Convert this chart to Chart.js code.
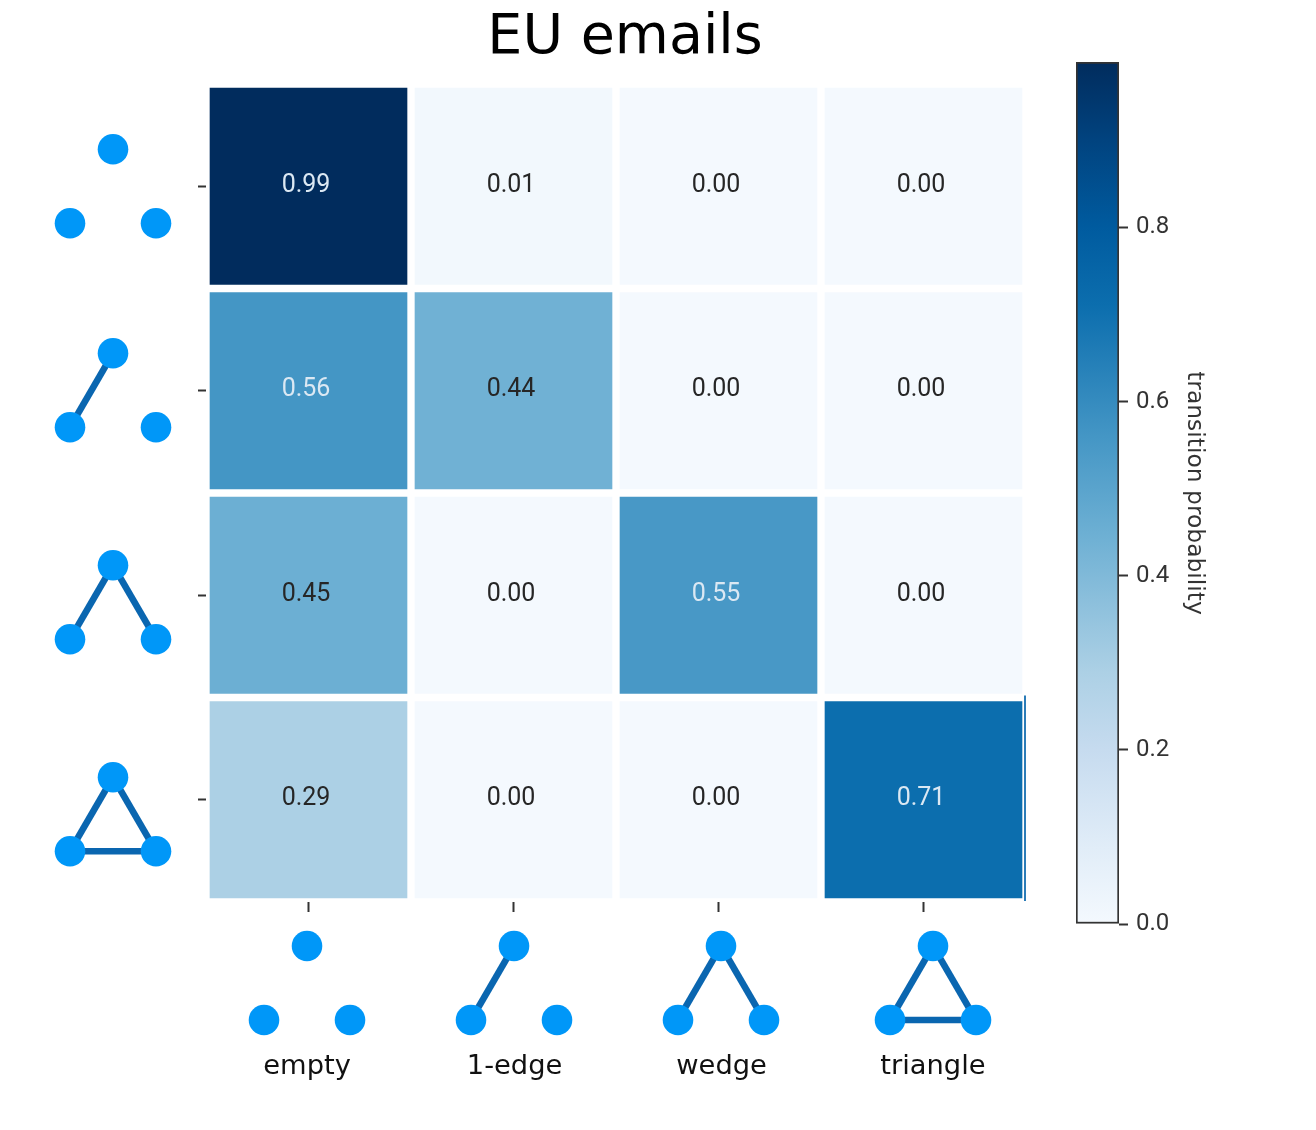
<!DOCTYPE html>
<html>
<head>
<meta charset="utf-8">
<style>
    html, body { margin: 0; padding: 0; background: #fff; }
    canvas { position: absolute; top: 0; filter: blur(0.4px); }
    #matrixChart { left: 0; }
    #colorbar { left: 1060px; }
</style>
</head>
<body>
<canvas id="matrixChart" width="1250" height="1130"></canvas>
<canvas id="colorbar" width="160" height="1130"></canvas>
<script src="https://cdn.jsdelivr.net/npm/chart.js@4"></script>
<script>
// transition probabilities, one list per row of the matrix
var categories = ['empty', '1-edge', 'wedge', 'triangle'];
var emptyRow = [0.99, 0.01, 0.00, 0.00];
var oneEdgeRow = [0.56, 0.44, 0.00, 0.00];
var wedgeRow = [0.45, 0.00, 0.55, 0.00];
var triangleRow = [0.29, 0.00, 0.00, 0.71];
var rows = [emptyRow, oneEdgeRow, wedgeRow, triangleRow];

var colorbarTicks = [0.0, 0.2, 0.4, 0.6, 0.8];
var colorbarMax = 0.99;

// edges of the little graph for each category, as pairs of node names
var glyphEdges = [
    [],
    [['left', 'top']],
    [['left', 'top'], ['top', 'right']],
    [['left', 'top'], ['top', 'right'], ['left', 'right']]
];

// colour ramp, value -> colour
var rampStops = [
    [0.00, '#f4f9fe'],
    [0.10, '#deebf7'],
    [0.20, '#c6dbef'],
    [0.29, '#acd0e5'],
    [0.45, '#6cafd3'],
    [0.56, '#4496c5'],
    [0.71, '#0c6eae'],
    [0.80, '#005b9f'],
    [0.90, '#01437f'],
    [0.99, '#012c5d']
];

// the glyphs and labels sit a little off the ticks
var rowGlyphTop = [-37, -37.5, -30, -22.5];
var columnGlyphX = [-1.5, 0.5, 2.5, 9.5];
var labelPositions = [0.493, 1.505, 2.515, 3.546];

var inkColor = '#333333';

function hexToRgb(hex) {
    return [1, 3, 5].map(function (i) { return parseInt(hex.substr(i, 2), 16); });
}

function rampColor(v) {
    for (var i = 1; i < rampStops.length; i++) {
        if (v <= rampStops[i][0]) {
            var a = rampStops[i - 1], b = rampStops[i];
            var t = (v - a[0]) / (b[0] - a[0]);
            var ca = hexToRgb(a[1]), cb = hexToRgb(b[1]);
            return 'rgb(' + ca.map(function (c, k) { return Math.round(c + (cb[k] - c) * t); }).join(',') + ')';
        }
    }
    return rampStops[rampStops.length - 1][1];
}

function drawGlyph(ctx, x, y, edges) {
    var nodes = {
        top: [x, y],
        left: [x - 43, y + 74],
        right: [x + 43, y + 74]
    };
    ctx.strokeStyle = '#0a66b0';
    ctx.lineWidth = 6.5;
    edges.forEach(function (e) {
        ctx.beginPath();
        ctx.moveTo(nodes[e[0]][0], nodes[e[0]][1]);
        ctx.lineTo(nodes[e[1]][0], nodes[e[1]][1]);
        ctx.stroke();
    });
    ctx.fillStyle = '#0097f8';
    Object.keys(nodes).forEach(function (k) {
        ctx.beginPath();
        ctx.arc(nodes[k][0], nodes[k][1], 15.3, 0, Math.PI * 2);
        ctx.fill();
    });
}

var matrixExtras = {
    id: 'matrixExtras',
    afterDatasetsDraw: function (chart) {
        var ctx = chart.ctx;
        var xScale = chart.scales.x;
        var yScale = chart.scales.y;
        ctx.save();

        // cell values
        ctx.font = '25px Roboto';
        ctx.textAlign = 'center';
        ctx.textBaseline = 'middle';
        rows.forEach(function (row, r) {
            var meta = chart.getDatasetMeta(r);
            row.forEach(function (v, c) {
                var bar = meta.data[c].getCenterPoint();
                ctx.fillStyle = v > 0.5 ? '#dbe8f3' : '#262626';
                ctx.fillText(v.toFixed(2), bar.x - 2.5, bar.y - 1);
            });
        });

        // stray sliver on the right of the last row
        ctx.fillStyle = '#2b7cb8';
        ctx.fillRect(xScale.right - 2, yScale.getPixelForValue(3) - 2, 2, yScale.getPixelForValue(4) - yScale.getPixelForValue(3) + 1);

        // graph glyphs as row and column labels
        categories.forEach(function (name, i) {
            drawGlyph(ctx, 113, yScale.getPixelForValue(i + 0.5) + rowGlyphTop[i], glyphEdges[i]);
            drawGlyph(ctx, xScale.getPixelForValue(i) + columnGlyphX[i], 946, glyphEdges[i]);
        });
        ctx.restore();
    }
};

new Chart(document.getElementById('matrixChart').getContext('2d'), {
    type: 'bar',
    data: {
        labels: categories,
        datasets: rows.map(function (row, r) {
            return {
                label: categories[r],
                data: row.map(function () { return [r, r + 1]; }),
                backgroundColor: row.map(rampColor),
                borderColor: '#ffffff',
                borderWidth: 4,
                borderSkipped: false,
                barPercentage: 1,
                categoryPercentage: 1,
                grouped: false
            };
        })
    },
    options: {
        responsive: false,
        animation: false,
        devicePixelRatio: 1,
        layout: {
            padding: 0
        },
        plugins: {
            legend: { display: false },
            tooltip: { enabled: false },
            title: {
                display: true,
                text: 'EU emails',
                color: '#000000',
                font: { family: '"DejaVu Sans"', size: 55.5, weight: 'normal', lineHeight: 1.2 },
                padding: { top: 5, bottom: 12.4 }
            }
        },
        scales: {
            x: {
                type: 'category',
                position: 'bottom',
                weight: 0,
                offset: true,
                afterFit: function (scale) { scale.height = 10; },
                border: { display: false },
                grid: { offset: false, drawOnChartArea: false, tickLength: 10, tickColor: inkColor, tickWidth: 2 },
                ticks: { display: false }
            },
            x2: {
                type: 'linear',
                position: 'bottom',
                weight: 1,
                min: 0,
                max: 4,
                offset: false,
                afterBuildTicks: function (scale) {
                    scale.ticks = labelPositions.map(function (p) { return { value: p }; });
                },
                afterFit: function (scale) { scale.height = 218; },
                border: { display: false },
                grid: { display: false },
                ticks: {
                    autoSkip: false,
                    maxRotation: 0,
                    padding: 131,
                    color: '#111111',
                    font: { family: '"DejaVu Sans"', size: 27.3 },
                    callback: function (value, index) { return categories[index]; }
                }
            },
            y: {
                type: 'linear',
                position: 'left',
                reverse: true,
                min: 0,
                max: 4,
                afterBuildTicks: function (scale) {
                    scale.ticks = categories.map(function (name, i) { return { value: i + 0.5 }; });
                },
                afterFit: function (scale) { scale.width = 206; },
                border: { display: false },
                grid: { drawOnChartArea: false, tickLength: 8, tickColor: inkColor, tickWidth: 2 },
                ticks: { display: false }
            },
            // empty axis, only keeps the room that the colorbar sits in
            spacer: {
                type: 'linear',
                position: 'right',
                afterFit: function (scale) { scale.width = 224; },
                border: { display: false },
                grid: { display: false },
                ticks: { display: false }
            }
        }
    },
    plugins: [matrixExtras]
});

new Chart(document.getElementById('colorbar').getContext('2d'), {
    type: 'bar',
    data: {
        labels: ['transition probability'],
        datasets: [{
            label: 'transition probability',
            data: [[0, colorbarMax]],
            barPercentage: 1,
            categoryPercentage: 1,
            borderColor: inkColor,
            borderWidth: 2,
            borderSkipped: false,
            backgroundColor: function (context) {
                var chart = context.chart;
                if (!chart.chartArea) {
                    return rampStops[0][1];
                }
                var yScale = chart.scales.y;
                var top = yScale.getPixelForValue(colorbarMax);
                var bottom = yScale.getPixelForValue(0);
                var g = chart.ctx.createLinearGradient(0, bottom, 0, top);
                rampStops.forEach(function (s) {
                    g.addColorStop(Math.min(s[0] / colorbarMax, 1), s[1]);
                });
                return g;
            }
        }]
    },
    options: {
        responsive: false,
        animation: false,
        devicePixelRatio: 1,
        layout: {
            padding: { left: 16, right: 12, top: 62, bottom: 206 }
        },
        plugins: {
            legend: { display: false },
            tooltip: { enabled: false }
        },
        scales: {
            x: { display: false },
            y: {
                position: 'right',
                min: 0,
                max: colorbarMax,
                afterBuildTicks: function (scale) {
                    scale.ticks = colorbarTicks.map(function (t) { return { value: t }; });
                },
                afterFit: function (scale) { scale.width = 89; },
                border: { display: false },
                grid: { drawOnChartArea: false, tickLength: 9, tickColor: inkColor, tickWidth: 2 },
                ticks: {
                    padding: 8,
                    color: '#333333',
                    font: { family: 'Roboto', size: 24 },
                    callback: function (value) { return value.toFixed(1); }
                },
                title: {
                    display: true,
                    text: 'transition probability',
                    color: '#333333',
                    padding: 0,
                    font: { family: '"DejaVu Sans"', size: 23.4, lineHeight: 1.2 }
                }
            }
        }
    }
});
</script>
</body>
</html>
